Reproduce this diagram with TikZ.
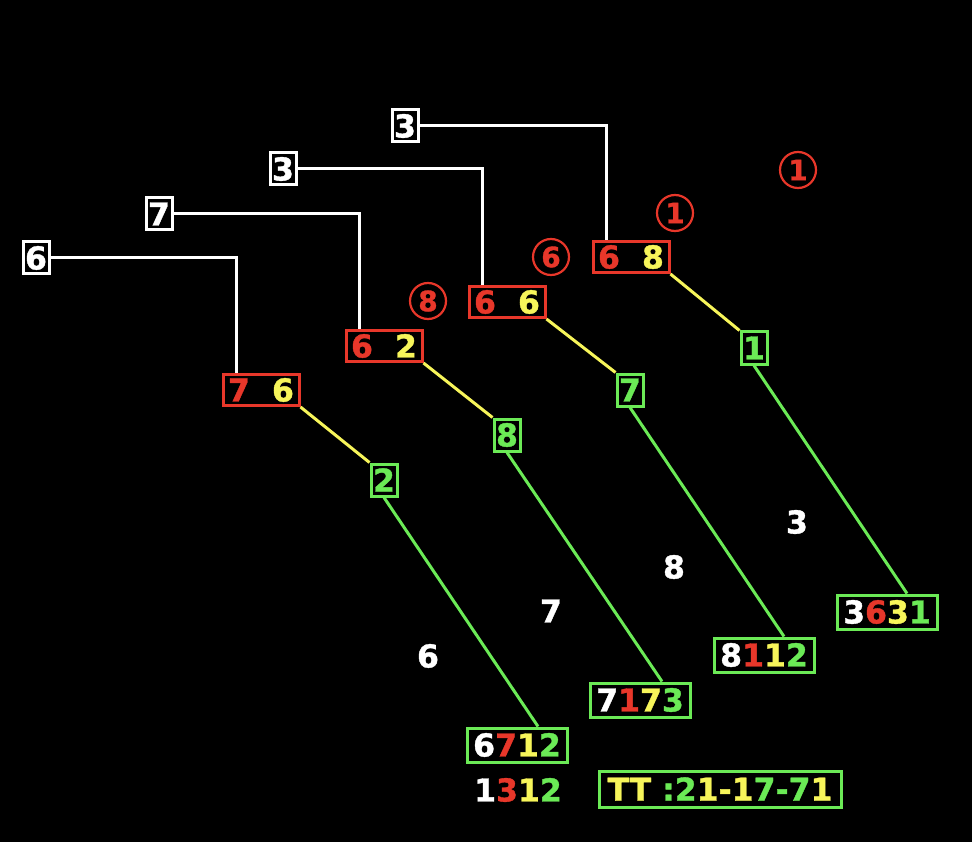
\documentclass[tikz,border=0pt]{standalone}
\usepackage{fontspec}
\setmainfont{DejaVu Sans}
\newfontfamily\bfam{DejaVuSans-Bold.ttf}[FakeBold=1.2]
\definecolor{cr}{HTML}{E8372A}
\definecolor{cy}{HTML}{F7F55A}
\definecolor{cg}{HTML}{6BEA56}
\newcommand{\R}[1]{\textcolor{cr}{#1}}
\newcommand{\Y}[1]{\textcolor{cy}{#1}}
\newcommand{\G}[1]{\textcolor{cg}{#1}}
\newcommand{\W}[1]{\textcolor{white}{#1}}
\begin{document}
\begin{tikzpicture}[x=1pt,y=-1pt,
  every node/.style={font=\bfam\fontsize{31.5}{33}\selectfont, inner sep=0pt},
  wbox/.style={draw=white, line width=3pt, text=white, minimum width=26pt, minimum height=32pt},
  rbox/.style={draw=cr, line width=3pt, minimum width=76pt, minimum height=31pt},
  gbox/.style={draw=cg, line width=3pt, text=cg, minimum width=26pt, minimum height=32pt},
  fbox/.style={draw=cg, line width=3pt, minimum width=100pt, minimum height=34pt},
  circ/.style={circle, draw=cr, line width=2.2pt, text=cr, minimum size=36pt, font=\bfam\fontsize{28}{30}\selectfont},
  wnum/.style={text=white},
  wl/.style={draw=white, line width=3pt},
  yl/.style={draw=cy, line width=3pt},
  gl/.style={draw=cg, line width=3pt}]
\fill[black] (0,0) rectangle (972,842);
\useasboundingbox (0,0) rectangle (972,842);
% white boxes
\node[wbox] (w1) at (405,126) {3};
\node[wbox] (w2) at (283,169) {3};
\node[wbox] (w3) at (159,214) {7};
\node[wbox] (w4) at (36,258) {6};
% red boxes
\node[rbox] (r1) at (631,257) {\R{6}\hspace{0.7em}\Y{8}};
\node[rbox] (r2) at (507,302) {\R{6}\hspace{0.7em}\Y{6}};
\node[rbox] (r3) at (384,346) {\R{6}\hspace{0.7em}\Y{2}};
\node[rbox] (r4) at (261,390) {\R{7}\hspace{0.7em}\Y{6}};
% circled numbers
\node[circ] (c0) at (798,170) {1};
\node[circ] (c1) at (675,213) {1};
\node[circ] (c2) at (551,257) {6};
\node[circ] (c3) at (428,301) {8};
% green small boxes
\node[gbox] (g1) at (754,348) {1};
\node[gbox] (g2) at (630,390) {7};
\node[gbox] (g3) at (507,435) {8};
\node[gbox] (g4) at (384,480) {2};
% final boxes
\node[fbox] (f1) at (887,612) {\W{3}\R{6}\Y{3}\G{1}};
\node[fbox] (f2) at (764,655) {\W{8}\R{1}\Y{1}\G{2}};
\node[fbox] (f3) at (640,700) {\W{7}\R{1}\Y{7}\G{3}};
\node[fbox] (f4) at (517,745) {\W{6}\R{7}\Y{1}\G{2}};
% white numbers
\node[wnum] (n1) at (797,522) {3};
\node[wnum] (n2) at (674,567) {8};
\node[wnum] (n3) at (551,611) {7};
\node[wnum] (n4) at (428,656) {6};
% bottom
\node (s) at (518,790) {\W{1}\R{3}\Y{1}\G{2}};
\node[draw=cg, line width=3pt, minimum width=242pt, minimum height=36pt] (tt) at (720,789)
  {\Y{TT} \G{:2}\Y{1-1}\G{7-7}\Y{1}};
% connectors
\draw[wl] (w1.east) -| ([xshift=15pt]r1.north west);
\draw[wl] (w2.east) -| ([xshift=15pt]r2.north west);
\draw[wl] (w3.east) -| ([xshift=15pt]r3.north west);
\draw[wl] (w4.east) -| ([xshift=15pt]r4.north west);
\draw[yl] (r1.south east) -- (g1.north west);
\draw[yl] (r2.south east) -- (g2.north west);
\draw[yl] (r3.south east) -- (g3.north west);
\draw[yl] (r4.south east) -- (g4.north west);
\draw[gl] (g1.south) -- ([xshift=20pt]f1.north);
\draw[gl] (g2.south) -- ([xshift=20pt]f2.north);
\draw[gl] (g3.south) -- ([xshift=22pt]f3.north);
\draw[gl] (g4.south) -- ([xshift=21pt]f4.north);
\end{tikzpicture}
\end{document}
